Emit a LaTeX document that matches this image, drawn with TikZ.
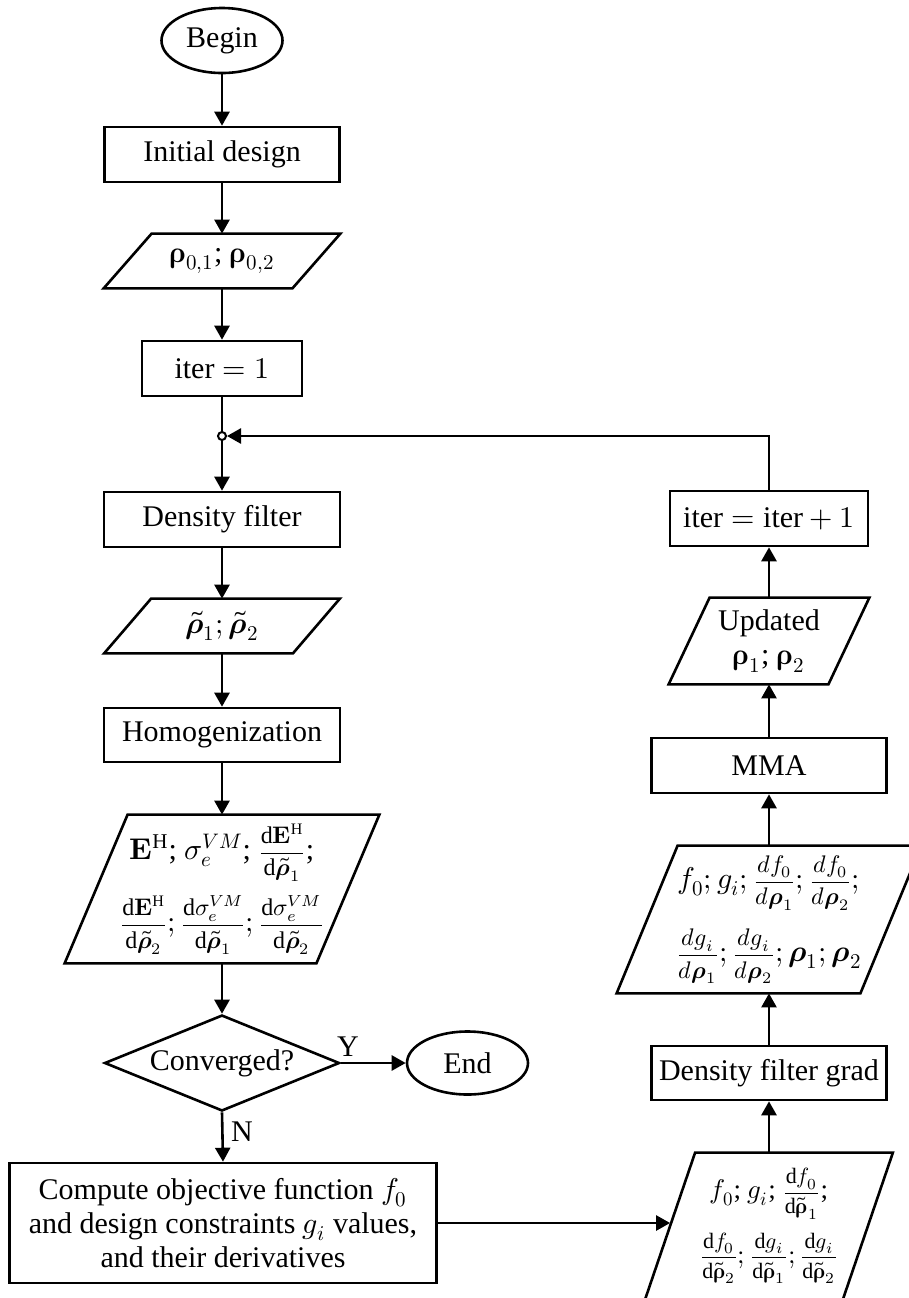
\documentclass[tikz,border=0pt]{standalone}
\usepackage{fontspec}
\usepackage{amsmath}
\usepackage{unicode-math}
\setmainfont{Liberation Serif}
\setmathfont{Latin Modern Math}
\usetikzlibrary{arrows.meta,shapes.geometric}
\newcommand{\fr}[2]{\text{\fontsize{12}{12}\selectfont$\displaystyle\frac{#1}{#2}$}}
\newcommand{\frs}[2]{\text{\fontsize{11}{11}\selectfont$\displaystyle\frac{#1}{#2}$}}
\tikzset{
  lw/.style={line width=1.3pt},
  txt/.style={font=\fontsize{15}{17}\selectfont, align=center, inner sep=0pt},
  procbox/.style={txt, lw, draw, rectangle},
  term/.style={txt, lw, draw, ellipse},
  decide/.style={txt, lw, draw, diamond, shape aspect=2.45},
  iobox/.style={txt, rectangle},
  pgram/.style={lw, line join=miter},
  arr/.style={lw, -{Triangle[length=7pt,width=7.5pt]}},
  plain/.style={lw},
  lbl/.style={font=\fontsize{15}{17}\selectfont, inner sep=0pt},
}
\begin{document}
\begin{tikzpicture}[x=0.5pt,y=-0.5pt]
\useasboundingbox (0,0) rectangle (909,1298);

% ---- left column ----
\node[term, minimum width=60.5pt, minimum height=32.5pt] (begin) at (222,40.5) {Begin};
\node[procbox, minimum width=117.5pt, minimum height=27.5pt] (init) at (222,154.5) {Initial design};
\node[iobox, minimum width=118pt, minimum height=27pt] (p1) at (222,261) {$\symbfup{\rho}_{0,1}$; $\symbfup{\rho}_{0,2}$};
\draw[pgram] ([xshift=24pt]p1.north west) -- (p1.north east) -- ([xshift=-24pt]p1.south east) -- (p1.south west) -- cycle;
\node[procbox, minimum width=80pt, minimum height=27.5pt] (it1) at (222,368.5) {$\mathrm{iter}=1$};
\node[procbox, minimum width=118pt, minimum height=27.5pt] (df) at (222,519.5) {Density filter};
\node[iobox, minimum width=117.5pt, minimum height=27pt] (p2) at (222,626) {$\widetilde{\symbfit{\rho}}_1;\widetilde{\symbfit{\rho}}_2$};
\draw[pgram] ([xshift=23.5pt]p2.north west) -- (p2.north east) -- ([xshift=-23.5pt]p2.south east) -- (p2.south west) -- cycle;
\node[procbox, minimum width=118pt, minimum height=27pt] (hom) at (222,735) {Homogenization};
\node[iobox, minimum width=157pt, minimum height=74pt] (p3) at (222,889)
  {$\symbf{E}^{\mathrm{H}}$; $\sigma_e^{VM}$; $\fr{\mathrm{d}\symbf{E}^{\mathrm{H}}}{\mathrm{d}\widetilde{\symbfit{\rho}}_1}$;\\[6pt]
   $\fr{\mathrm{d}\symbf{E}^{\mathrm{H}}}{\mathrm{d}\widetilde{\symbfit{\rho}}_2};\fr{\mathrm{d}\sigma_e^{VM}}{\mathrm{d}\widetilde{\symbfit{\rho}}_1};\fr{\mathrm{d}\sigma_e^{VM}}{\mathrm{d}\widetilde{\symbfit{\rho}}_2}$};
\draw[pgram] ([xshift=31.5pt]p3.north west) -- (p3.north east) -- ([xshift=-31.5pt]p3.south east) -- (p3.south west) -- cycle;
\node[decide, minimum width=117.5pt, minimum height=48pt] (conv) at (222,1063) {Converged?};
\node[term, minimum width=60.5pt, minimum height=31.5pt] (end) at (467.5,1063) {End};
\node[procbox, minimum width=213.5pt, minimum height=60pt] (comp) at (223,1223)
  {Compute objective function $f_0$\\ and design constraints $g_i$ values,\\ and their derivatives};

% ---- right column ----
\node[iobox, minimum width=123.5pt, minimum height=73pt, font=\fontsize{13.5}{15}\selectfont] (p6) at (769,1226)
  {$f_0$; $g_i$; $\frs{\mathrm{d}f_0}{\mathrm{d}\widetilde{\symbfup{\rho}}_1}$;\\[6pt]
   $\frs{\mathrm{d}f_0}{\mathrm{d}\widetilde{\symbfup{\rho}}_2};\frs{\mathrm{d}g_i}{\mathrm{d}\widetilde{\symbfup{\rho}}_1};\frs{\mathrm{d}g_i}{\mathrm{d}\widetilde{\symbfup{\rho}}_2}$};
\draw[pgram] ([xshift=25pt]p6.north west) -- (p6.north east) -- ([xshift=-25pt]p6.south east) -- (p6.south west) -- cycle;
\coordinate (p6in) at ([xshift=12.5pt]p6.west);
\node[procbox, minimum width=117.5pt, minimum height=27pt] (grad) at (769,1073) {Density filter grad};
\node[iobox, minimum width=152pt, minimum height=73.5pt] (p4) at (769,919.5)
  {$f_0; g_i; \fr{df_0}{d\symbfit{\rho}_1}; \fr{df_0}{d\symbfit{\rho}_2};$\\[8pt]
   $\fr{dg_i}{d\symbfit{\rho}_1}; \fr{dg_i}{d\symbfit{\rho}_2}; \symbfit{\rho}_1; \symbfit{\rho}_2$};
\draw[pgram] ([xshift=30.5pt]p4.north west) -- (p4.north east) -- ([xshift=-30.5pt]p4.south east) -- (p4.south west) -- cycle;
\node[procbox, minimum width=117.5pt, minimum height=27.5pt] (mma) at (769,765.5) {MMA};
\node[iobox, minimum width=100pt, minimum height=43pt] (p5) at (769,641) {Updated\\ $\symbfup{\rho}_1$; $\symbfup{\rho}_2$};
\draw[pgram] ([xshift=20.5pt]p5.north west) -- (p5.north east) -- ([xshift=-20.5pt]p5.south east) -- (p5.south west) -- cycle;
\node[procbox, minimum width=99pt, minimum height=27.5pt] (itp1) at (769,518.5) {$\mathrm{iter}=\mathrm{iter}+1$};

% junction
\node[circle, draw, fill=white, line width=1pt, inner sep=0pt, minimum size=4pt] (j) at (222,436) {};

% ---- connectors ----
\draw[arr] (begin) -- (init);
\draw[arr] (init) -- (p1.north);
\draw[arr] (p1.south) -- (it1);
\draw[plain] (it1) -- (j);
\draw[arr] (j) -- (df);
\draw[arr] (df) -- (p2.north);
\draw[arr] (p2.south) -- (hom);
\draw[arr] (hom) -- (p3.north);
\draw[arr] (p3.south) -- (conv);
\draw[arr] (conv.east) -- (end.west);
\draw[arr] (conv.south) -- (comp.north);
\draw[arr] (comp.east) -- (comp.east -| p6in);
\draw[arr] (p6.north) -- (grad.south);
\draw[arr] (grad.north) -- (p4.south);
\draw[arr] (p4.north) -- (mma.south);
\draw[arr] (mma.north) -- (p5.south);
\draw[arr] (p5.north) -- (itp1.south);
\draw[arr] (itp1.north) |- (j);

\node[lbl] (ylab) at (348,1047) {Y};
\node[lbl] (nlab) at (242,1132) {N};
\end{tikzpicture}
\end{document}
